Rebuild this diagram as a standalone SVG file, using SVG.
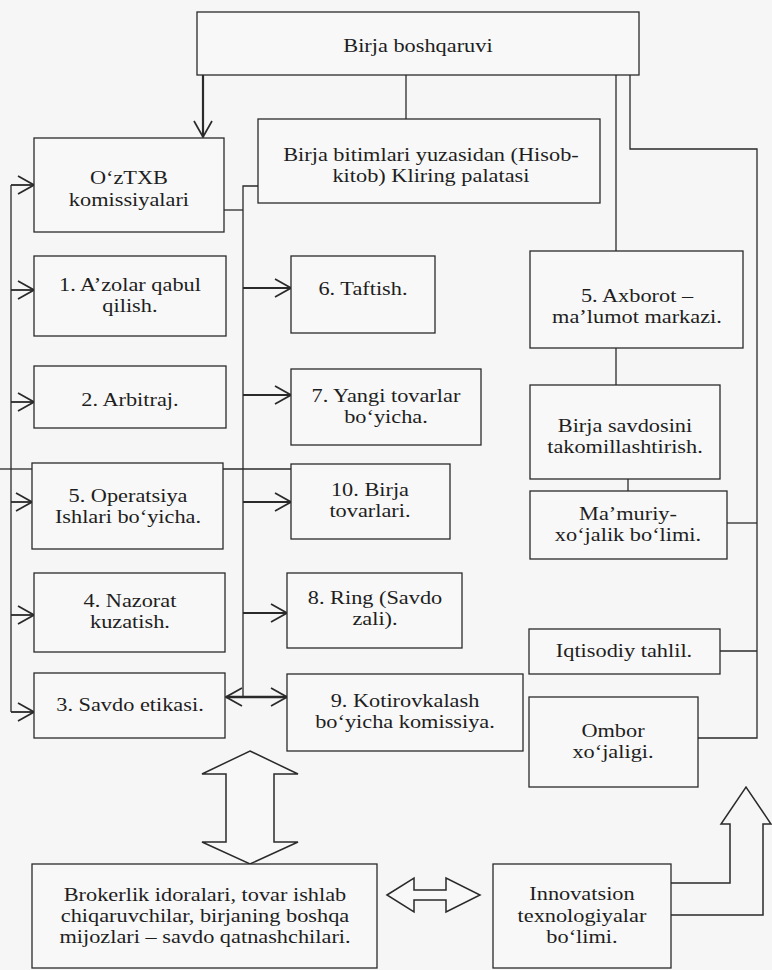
<svg xmlns="http://www.w3.org/2000/svg" width="772" height="970" viewBox="0 0 772 970">
<defs>
<style>
.bx{fill:#f8f8f8;stroke:#2a2a2a;stroke-width:1.3}
.t{font-family:"Liberation Serif","Times New Roman",serif;font-size:18px;fill:#1e1e1e;text-anchor:middle;transform-box:fill-box;transform-origin:center;transform:scaleX(1.24)}
.c{fill:none;stroke:#2a2a2a;stroke-width:1.3}
.a{fill:none;stroke:#2a2a2a;stroke-width:1.8;marker-end:url(#v)}
.h{fill:#f8f8f8;stroke:#2a2a2a;stroke-width:1.5;stroke-linejoin:miter}
</style>
<marker id="v" viewBox="0 0 18 20" refX="17" refY="10" markerWidth="18" markerHeight="20" markerUnits="userSpaceOnUse" orient="auto-start-reverse">
<path d="M1,1 L17,10 L1,19" fill="none" stroke="#2a2a2a" stroke-width="1.7"/>
</marker>
</defs>
<rect x="0" y="0" width="772" height="970" fill="#f6f6f6"/>

<g id="connectors">
<line class="a" x1="203" y1="75" x2="203" y2="137" style="stroke-width:2.2"/>
<line class="c" x1="406" y1="75" x2="406" y2="119"/>
<line class="c" x1="616" y1="75" x2="616" y2="251"/>
<polyline class="c" points="630,75 630,149 757,149 757,738 698,738"/>
<line class="c" x1="727" y1="523" x2="757" y2="523"/>
<line class="c" x1="720" y1="651" x2="757" y2="651"/>
<line class="c" x1="616" y1="348" x2="616" y2="385"/>
<line class="c" x1="628" y1="479" x2="628" y2="491"/>
<line class="c" x1="11" y1="185" x2="11" y2="712"/>
<line class="a" x1="11" y1="185" x2="34" y2="185"/>
<line class="a" x1="11" y1="290" x2="34" y2="290"/>
<line class="a" x1="11" y1="402" x2="34" y2="402"/>
<line class="a" x1="11" y1="502" x2="32" y2="502"/>
<line class="a" x1="11" y1="615" x2="34" y2="615"/>
<line class="a" x1="11" y1="712" x2="34" y2="712"/>
<line class="c" x1="0" y1="469" x2="32" y2="469"/>
<line class="c" x1="223" y1="469" x2="291" y2="469"/>
<polyline class="c" points="258,186 243,186 243,697"/>
<line class="c" x1="224" y1="210" x2="243" y2="210"/>
<line class="a" x1="243" y1="288" x2="291" y2="288"/>
<line class="a" x1="243" y1="395" x2="291" y2="395"/>
<line class="a" x1="243" y1="502" x2="291" y2="502"/>
<line class="a" x1="243" y1="613" x2="287" y2="613"/>
<line class="a" x1="226" y1="697" x2="287" y2="697" style="stroke-width:2.4;marker-start:url(#v)"/>
<polygon class="h" points="250,751 298,774 274,774 274,842 298,842 250,864 202,842 226,842 226,774 202,774"/>
<polygon class="h" points="387,895 414,878 414,890 446,890 446,878 480,895 446,912 446,900 414,900 414,912"/>
<polyline class="c" points="671,883 730,883 730,824 721,824 746,787 771,824 763,824 763,915 671,915" style="stroke-width:1.5"/>
</g>

<g id="n-top"><rect class="bx" x="197" y="12" width="442" height="63"/><text class="t" x="418" y="52">Birja boshqaruvi</text></g>
<g id="n-kliring"><rect class="bx" x="258" y="119" width="342" height="84"/><text class="t" y="161"><tspan x="431">Birja bitimlari yuzasidan (Hisob-</tspan><tspan x="431" dy="21">kitob) Kliring palatasi</tspan></text></g>
<g id="n-oztxb"><rect class="bx" x="34" y="138" width="190" height="94"/><text class="t" y="184"><tspan x="129">O‘zTXB</tspan><tspan x="129" dy="22">komissiyalari</tspan></text></g>
<g id="n-1"><rect class="bx" x="34" y="256" width="192" height="80"/><text class="t" y="291"><tspan x="130">1. A’zolar qabul</tspan><tspan x="130" dy="21">qilish.</tspan></text></g>
<g id="n-2"><rect class="bx" x="34" y="366" width="192" height="62"/><text class="t" x="130" y="406">2. Arbitraj.</text></g>
<g id="n-5op"><rect class="bx" x="32" y="463" width="191" height="86"/><text class="t" y="502"><tspan x="128">5. Operatsiya</tspan><tspan x="128" dy="21">Ishlari bo‘yicha.</tspan></text></g>
<g id="n-4"><rect class="bx" x="34" y="573" width="191" height="79"/><text class="t" y="607"><tspan x="130">4. Nazorat</tspan><tspan x="130" dy="21">kuzatish.</tspan></text></g>
<g id="n-3"><rect class="bx" x="34" y="673" width="191" height="65"/><text class="t" x="130" y="711">3. Savdo etikasi.</text></g>
<g id="n-6"><rect class="bx" x="291" y="256" width="144" height="77"/><text class="t" x="363" y="295">6. Taftish.</text></g>
<g id="n-7"><rect class="bx" x="291" y="369" width="190" height="76"/><text class="t" y="402"><tspan x="386">7. Yangi tovarlar</tspan><tspan x="386" dy="21">bo‘yicha.</tspan></text></g>
<g id="n-10"><rect class="bx" x="291" y="464" width="159" height="75"/><text class="t" y="496"><tspan x="370">10. Birja</tspan><tspan x="370" dy="21">tovarlari.</tspan></text></g>
<g id="n-8"><rect class="bx" x="287" y="573" width="175" height="75"/><text class="t" y="604"><tspan x="375">8. Ring (Savdo</tspan><tspan x="375" dy="21">zali).</tspan></text></g>
<g id="n-9"><rect class="bx" x="287" y="674" width="236" height="77"/><text class="t" y="707"><tspan x="405">9. Kotirovkalash</tspan><tspan x="405" dy="21">bo‘yicha komissiya.</tspan></text></g>
<g id="n-axborot"><rect class="bx" x="530" y="251" width="213" height="97"/><text class="t" y="302"><tspan x="637">5. Axborot –</tspan><tspan x="637" dy="21">ma’lumot markazi.</tspan></text></g>
<g id="n-savdo"><rect class="bx" x="530" y="385" width="190" height="94"/><text class="t" y="432"><tspan x="625">Birja savdosini</tspan><tspan x="625" dy="21">takomillashtirish.</tspan></text></g>
<g id="n-mamuriy"><rect class="bx" x="530" y="491" width="197" height="68"/><text class="t" y="520"><tspan x="628">Ma’muriy-</tspan><tspan x="628" dy="21">xo‘jalik bo‘limi.</tspan></text></g>
<g id="n-iqtisod"><rect class="bx" x="529" y="629" width="191" height="45"/><text class="t" x="624" y="657">Iqtisodiy tahlil.</text></g>
<g id="n-ombor"><rect class="bx" x="529" y="697" width="169" height="90"/><text class="t" y="737"><tspan x="613">Ombor</tspan><tspan x="613" dy="21">xo‘jaligi.</tspan></text></g>
<g id="n-broker"><rect class="bx" x="32" y="864" width="345" height="104"/><text class="t" y="901"><tspan x="205">Brokerlik idoralari, tovar ishlab</tspan><tspan x="205" dy="21">chiqaruvchilar, birjaning boshqa</tspan><tspan x="205" dy="21">mijozlari – savdo qatnashchilari.</tspan></text></g>
<g id="n-innov"><rect class="bx" x="493" y="864" width="178" height="104"/><text class="t" y="900"><tspan x="582">Innovatsion</tspan><tspan x="582" dy="22">texnologiyalar</tspan><tspan x="582" dy="21">bo‘limi.</tspan></text></g>
</svg>
